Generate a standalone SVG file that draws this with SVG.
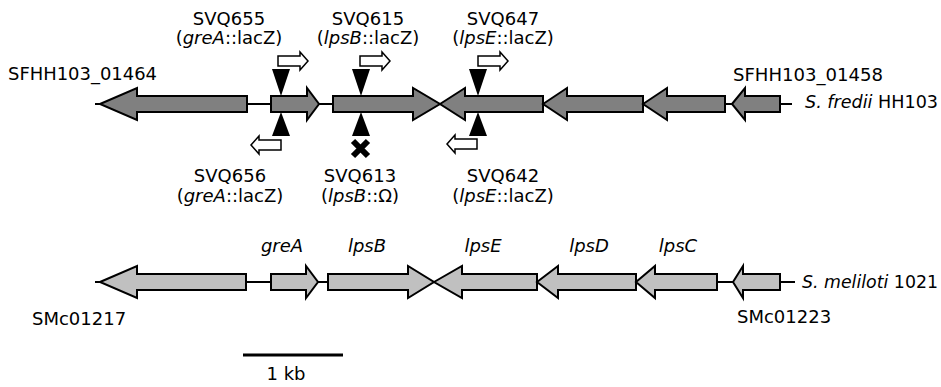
<svg xmlns="http://www.w3.org/2000/svg" width="941" height="387" viewBox="0 0 941 387">
<style>
text{font-family:"DejaVu Sans","Verdana",sans-serif;font-size:18px;fill:#000}
.it{font-style:italic}
.m{text-anchor:middle}
.g1{fill:#808080;stroke:#000;stroke-width:2;stroke-linejoin:miter}
.g2{fill:#c0c0c0;stroke:#000;stroke-width:2;stroke-linejoin:miter}
.bb{stroke:#000;stroke-width:2;fill:none}
.tri{fill:#000;stroke:none}
.rep{fill:#fff;stroke:#000;stroke-width:1.5}
</style>
<rect width="941" height="387" fill="#fff"/>
<g id="connectors">
<line class="bb" x1="95" y1="104" x2="792" y2="104"/>
<line class="bb" x1="95" y1="282" x2="795" y2="282"/>
</g>
<g id="row1">
<g id="SFHH103_01464"><path class="g1" d="M100,104 L137,88 L137,96 L247,96 L247,112 L137,112 L137,120 Z"/><text x="8" y="80" textLength="149" lengthAdjust="spacingAndGlyphs">SFHH103_01464</text></g>
<g id="greA1"><path class="g1" d="M271,96 L307,96 L307,88 L319,104 L307,120 L307,112 L271,112 Z"/></g>
<g id="lpsB1"><path class="g1" d="M333,96 L413,96 L413,88 L440,104 L413,120 L413,112 L333,112 Z"/></g>
<g id="lpsE1"><path class="g1" d="M440,104 L465,88 L465,96 L543,96 L543,112 L465,112 L465,120 Z"/></g>
<g id="lpsD1"><path class="g1" d="M543,104 L567,88 L567,96 L643,96 L643,112 L567,112 L567,120 Z"/></g>
<g id="lpsC1"><path class="g1" d="M643,104 L667,88 L667,96 L725,96 L725,112 L667,112 L667,120 Z"/></g>
<g id="SFHH103_01458"><path class="g1" d="M732,104 L745,88 L745,96 L780,96 L780,112 L745,112 L745,120 Z"/><text x="733" y="81" textLength="150" lengthAdjust="spacingAndGlyphs">SFHH103_01458</text></g>
<g id="label-fredii"><text x="805" y="108" textLength="133" lengthAdjust="spacingAndGlyphs"><tspan class="it">S. fredii</tspan> HH103</text></g>
</g>
<g id="insertions">
<g id="SVQ655">
<path class="tri" d="M272,69 L290,69 L281,96 Z"/>
<path class="rep" d="M278,56 L300,56 L300,52 L308,61 L300,70 L300,66 L278,66 Z"/>
<text class="m" x="229" y="25">SVQ655</text>
<text class="m" x="229" y="44">(<tspan class="it">greA</tspan>::lacZ)</text>
</g>
<g id="SVQ615">
<path class="tri" d="M352,69 L370,69 L361,96 Z"/>
<path class="rep" d="M360,56 L382,56 L382,52 L390,61 L382,70 L382,66 L360,66 Z"/>
<text class="m" x="368" y="25">SVQ615</text>
<text class="m" x="368" y="44">(<tspan class="it">lpsB</tspan>::lacZ)</text>
</g>
<g id="SVQ647">
<path class="tri" d="M469,69 L487,69 L478,96 Z"/>
<path class="rep" d="M478,56 L500,56 L500,52 L508,61 L500,70 L500,66 L478,66 Z"/>
<text class="m" x="503" y="25">SVQ647</text>
<text class="m" x="503" y="44">(<tspan class="it">lpsE</tspan>::lacZ)</text>
</g>
<g id="SVQ656">
<path class="tri" d="M272,136 L290,136 L281,112 Z"/>
<path class="rep" d="M281,140 L259,140 L259,136 L251,145 L259,154 L259,150 L281,150 Z"/>
<text class="m" x="230" y="182">SVQ656</text>
<text class="m" x="230" y="202">(<tspan class="it">greA</tspan>::lacZ)</text>
</g>
<g id="SVQ613">
<path class="tri" d="M352,136 L370,136 L361,112 Z"/>
<path d="M353,141 L368,156 M368,141 L353,156" stroke="#000" stroke-width="6" fill="none"/>
<text class="m" x="360" y="182">SVQ613</text>
<text class="m" x="360" y="202">(<tspan class="it">lpsB</tspan>::Ω)</text>
</g>
<g id="SVQ642">
<path class="tri" d="M469,136 L487,136 L478,112 Z"/>
<path class="rep" d="M477,139 L455,139 L455,135 L447,144 L455,153 L455,149 L477,149 Z"/>
<text class="m" x="503" y="182">SVQ642</text>
<text class="m" x="503" y="202">(<tspan class="it">lpsE</tspan>::lacZ)</text>
</g>
</g>
<g id="row2">
<g id="SMc01217"><path class="g2" d="M100,282 L137,266 L137,274 L246,274 L246,290 L137,290 L137,298 Z"/><text x="32" y="325">SMc01217</text></g>
<g id="greA2"><path class="g2" d="M271,274 L306,274 L306,266 L318,282 L306,298 L306,290 L271,290 Z"/><text class="it m" x="282" y="252">greA</text></g>
<g id="lpsB2"><path class="g2" d="M328,274 L408,274 L408,266 L434,282 L408,298 L408,290 L328,290 Z"/><text class="it m" x="367" y="252">lpsB</text></g>
<g id="lpsE2"><path class="g2" d="M434,282 L462,266 L462,274 L537,274 L537,290 L462,290 L462,298 Z"/><text class="it m" x="483" y="252">lpsE</text></g>
<g id="lpsD2"><path class="g2" d="M537,282 L558,266 L558,274 L636,274 L636,290 L558,290 L558,298 Z"/><text class="it m" x="589" y="252">lpsD</text></g>
<g id="lpsC2"><path class="g2" d="M636,282 L655,266 L655,274 L717,274 L717,290 L655,290 L655,298 Z"/><text class="it m" x="678" y="252">lpsC</text></g>
<g id="SMc01223"><path class="g2" d="M733,282 L743,266 L743,274 L780,274 L780,290 L743,290 L743,298 Z"/><text x="737" y="323">SMc01223</text></g>
<g id="label-meliloti"><text x="802" y="288" textLength="136" lengthAdjust="spacingAndGlyphs"><tspan class="it">S. meliloti</tspan> 1021</text></g>
</g>
<g id="scale">
<line x1="243" y1="355" x2="343" y2="355" stroke="#000" stroke-width="3"/>
<text class="m" x="286" y="380">1 kb</text>
</g>
</svg>
